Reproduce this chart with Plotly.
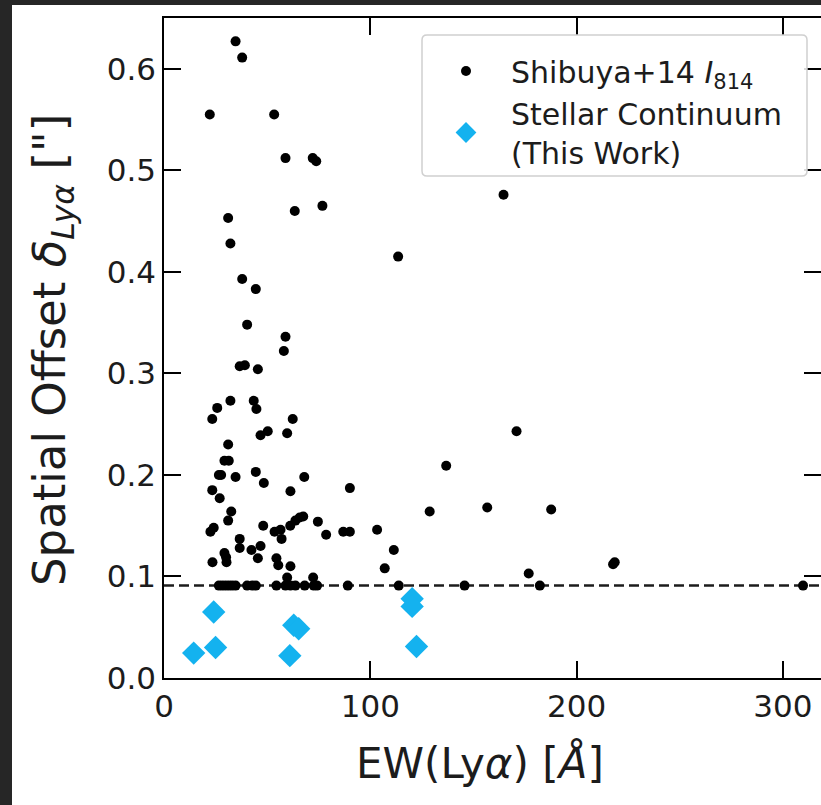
import plotly.graph_objects as go

# Shibuya+14 I814 offsets: Lya equivalent width [A] and spatial offset [arcsec]
shibuya_ew = [
    34.7, 37.9, 22.2, 53.4, 58.9, 72.1, 73.8, 31.1, 63.4, 76.8,
    32.2, 113.5, 37.9, 44.5, 164.6, 40.3, 58.9, 58.1, 36.7, 39.2,
    45.5, 32.2, 25.8, 23.4, 43.5, 44.8, 62.4, 59.7, 46.8, 50.3,
    31.1, 29.3, 31.4, 26.6, 27.7, 34.7, 44.5, 48.4, 68.0, 23.4,
    27.0, 61.3, 90.1, 32.6, 31.1, 24.1, 22.5, 48.1, 53.6, 56.5,
    61.2, 63.7, 65.8, 67.5, 74.6, 78.6, 86.9, 90.1, 103.3, 111.4,
    107.0, 57.0, 36.7, 36.7, 42.4, 46.8, 29.3, 30.1, 30.3, 23.5,
    45.5, 54.5, 55.4, 61.3, 59.7, 72.3,
    26.6, 28.2, 29.8, 31.4, 33.0, 34.7, 40.3, 42.8, 44.5, 54.5,
    58.9, 61.3, 63.7, 68.2, 72.6, 74.2, 89.1, 113.8, 145.7, 182.2,
    309.8,
    128.8, 136.8, 156.7, 170.9, 187.7, 176.8, 217.7, 218.5,
]
shibuya_offset = [
    0.627, 0.611, 0.555, 0.555, 0.512, 0.512, 0.509, 0.453, 0.460, 0.465,
    0.428, 0.415, 0.393, 0.383, 0.476, 0.348, 0.336, 0.322, 0.307, 0.308,
    0.304, 0.273, 0.266, 0.255, 0.273, 0.265, 0.255, 0.241, 0.239, 0.243,
    0.230, 0.214, 0.214, 0.200, 0.200, 0.198, 0.203, 0.192, 0.198, 0.185,
    0.177, 0.184, 0.187, 0.164, 0.155, 0.148, 0.144, 0.150, 0.144, 0.146,
    0.150, 0.155, 0.158, 0.159, 0.154, 0.141, 0.144, 0.144, 0.146, 0.126,
    0.108, 0.137, 0.137, 0.128, 0.126, 0.130, 0.123, 0.119, 0.114, 0.114,
    0.118, 0.118, 0.111, 0.110, 0.099, 0.099,
    0.091, 0.091, 0.091, 0.091, 0.091, 0.091, 0.091, 0.091, 0.091, 0.091,
    0.091, 0.091, 0.091, 0.091, 0.091, 0.091, 0.091, 0.091, 0.091, 0.091,
    0.091,
    0.164, 0.209, 0.168, 0.243, 0.166, 0.103, 0.112, 0.114,
]

# Stellar-continuum offsets measured in this work
stellar_ew = [14.4, 24.1, 25.0, 61.0, 62.9, 65.3, 120.3, 120.3, 122.4]
stellar_offset = [0.0245, 0.065, 0.030, 0.022, 0.052, 0.0485, 0.078, 0.0705, 0.031]

# I814 resolution limit (dashed line)
resolution_limit = 0.091

x_ticks = [0, 100, 200, 300]
y_ticks = [0.0, 0.1, 0.2, 0.3, 0.4, 0.5, 0.6]

FONT = "DejaVu Sans"
INK = "#1c1c1c"
FRAME = "#262626"

W, H = 821, 805
L, R, T, B = 164, 0, 18, 127
pw, ph = W - L - R, H - T - B


def px_x(p):
    """pixel column -> paper x"""
    return (p - L) / pw


def px_y(p):
    """pixel row (from top) -> paper y"""
    return 1 - (p - T) / ph


fig = go.Figure()

fig.add_trace(go.Scatter(
    x=shibuya_ew, y=shibuya_offset, mode="markers",
    name="Shibuya+14 <i>I</i><sub>814</sub>",
    marker=dict(symbol="circle", size=10, color="black", line=dict(width=0)),
))
fig.add_trace(go.Scatter(
    x=stellar_ew, y=stellar_offset, mode="markers",
    name="Stellar Continuum<br>(This Work)",
    marker=dict(symbol="diamond", size=18, color="#14b2ef", line=dict(width=0)),
))

# horizontal resolution limit across the full axis width
fig.add_shape(type="line", xref="paper", yref="y", x0=0, x1=1,
              y0=resolution_limit, y1=resolution_limit, layer="below",
              line=dict(color=INK, width=2.5, dash="10px,5px"))

# legend frame with rounded corners
bx0, bx1, by0, by1, rr = px_x(422), px_x(807), px_y(176), px_y(35), 5
rx, ry = rr / pw, rr / ph
frame_path = (
    f"M {bx0 + rx} {by1} L {bx1 - rx} {by1} Q {bx1} {by1} {bx1} {by1 - ry} "
    f"L {bx1} {by0 + ry} Q {bx1} {by0} {bx1 - rx} {by0} "
    f"L {bx0 + rx} {by0} Q {bx0} {by0} {bx0} {by0 + ry} "
    f"L {bx0} {by1 - ry} Q {bx0} {by1} {bx0 + rx} {by1} Z"
)
fig.add_shape(type="path", xref="paper", yref="paper", path=frame_path, layer="above",
              fillcolor="rgba(255,255,255,0.85)", line=dict(color="#d0d0d0", width=1.5))

# dark window frame on the left and top edges
fig.add_shape(type="rect", xref="paper", yref="paper", layer="above",
              x0=px_x(-20), x1=px_x(12), y0=px_y(H + 20), y1=px_y(-20),
              fillcolor=FRAME, line=dict(width=0))
fig.add_shape(type="rect", xref="paper", yref="paper", layer="above",
              x0=px_x(-20), x1=px_x(W + 20), y0=px_y(5), y1=px_y(-20),
              fillcolor=FRAME, line=dict(width=0))

axis_common = dict(
    showline=True, linecolor="black", linewidth=1.5, mirror="ticks",
    ticks="inside", ticklen=17, tickwidth=1.5, tickcolor="black",
    showgrid=False, zeroline=False,
    tickfont=dict(family=FONT, size=31, color=INK),
)

fig.update_xaxes(range=[0, 318.5], tickvals=x_ticks,
                 ticktext=[str(v) for v in x_ticks], **axis_common)
fig.update_yaxes(range=[0, 0.65], tickvals=y_ticks,
                 ticktext=[f"{v:.1f}" for v in y_ticks], **axis_common)

# axis titles
fig.add_annotation(
    text="EW(Ly<i>α</i>) [<i>Å</i>]", xref="paper", yref="paper",
    x=px_x(480), y=px_y(763), xanchor="center", yanchor="middle", showarrow=False,
    font=dict(family=FONT, size=42, color=INK),
)
fig.add_annotation(
    text='Spatial Offset <i>δ</i><sub><i>Lyα</i></sub> ["]', xref="paper", yref="paper",
    x=px_x(52), y=px_y(350), xanchor="center", yanchor="middle", showarrow=False,
    textangle=-90, font=dict(family=FONT, size=45, color=INK),
)

fig.update_layout(
    width=W, height=H,
    margin=dict(l=L, r=R, t=T, b=B, autoexpand=False),
    paper_bgcolor="white", plot_bgcolor="white",
    showlegend=True,
    legend=dict(
        x=px_x(421), y=px_y(45), xanchor="left", yanchor="top",
        bgcolor="rgba(0,0,0,0)", borderwidth=0,
        font=dict(family=FONT, size=30, color=INK),
        itemwidth=80, tracegroupgap=0,
    ),
    font=dict(family=FONT, color=INK),
)

fig.write_html("out.html")
